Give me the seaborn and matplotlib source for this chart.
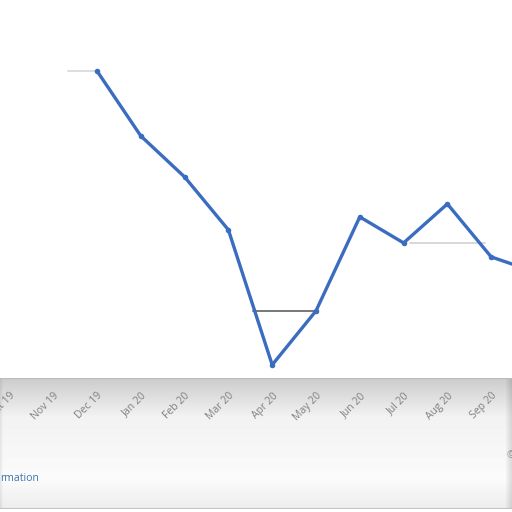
import numpy as np
import pandas as pd
import matplotlib.pyplot as plt
import seaborn as sns

# monthly values (axis has no scale shown)
months = ["Oct 19", "Nov 19", "Dec 19", "Jan 20", "Feb 20", "Mar 20", "Apr 20",
          "May 20", "Jun 20", "Jul 20", "Aug 20", "Sep 20", "Oct 20"]
values = [np.nan, np.nan, 30.9, 24.4, 20.3, 15.0, 1.5, 6.9, 16.3, 13.7, 17.6, 12.3, 10.8]

# faint horizontal guide segments: start position, end position, level
guide_start = [1.34, 5.56, 9.15]
guide_end = [2.0, 7.0, 10.86]
guide_level = [30.9, 6.9, 13.7]
guide_color = ["#dddddd", "#777777", "#d8d8d8"]

df = pd.DataFrame({"pos": np.arange(len(months)), "value": values})

sns.set_style("white")
plt.rcParams['font.family'] = ['Open Sans', 'DejaVu Sans']

fig = plt.figure(figsize=(5.12, 5.12), dpi=100)

# grey band behind the month labels
band = fig.add_axes([0, 0.005, 1, 0.257], zorder=0)
grad = np.concatenate([np.linspace(0.80, 0.95, 40), np.linspace(0.95, 0.985, 60),
                       np.linspace(0.985, 0.93, 30)])
col_shade = np.ones(512)
col_shade[:3] = np.linspace(0.93, 0.98, 3)
col_shade[-6:] = np.linspace(0.97, 0.88, 6)
img = np.clip(np.outer(grad, col_shade), 0, 1)
band.imshow(img, cmap="gray", vmin=0, vmax=1, aspect="auto", extent=[0, 1, 0, 1])
band.axhline(1, color="#bcbcbc", lw=1.5)
band.axhline(0, color="#c4c4c4", lw=1.5)
band.set_xlim(0, 1)
band.set_ylim(0, 1)
band.axis("off")

# axes runs a little past the right edge so the Oct 20 label is partly visible
ax = fig.add_axes([0, 0.262, 1.05, 0.738], zorder=1)
ax.patch.set_alpha(0)

for x0, x1, lvl, c in zip(guide_start, guide_end, guide_level, guide_color):
    ax.plot([x0, x1], [lvl, lvl], color=c, lw=1.4, zorder=1)

sns.lineplot(data=df, x="pos", y="value", ax=ax, color="#3a6cbf", lw=2.4,
             marker="o", markersize=4, markeredgewidth=0, zorder=2)

ax.set_xticks(range(len(months)))
ax.set_xticklabels(months, rotation=45, ha="right", va="top",
                   rotation_mode="anchor", fontsize=7.5, color="#808080")
ax.set_xlim(-0.215, 12.06)
ax.set_ylim(0.2, 38)
ax.tick_params(axis="x", length=0, pad=9)
ax.set_yticks([])
ax.set_xlabel("")
ax.set_ylabel("")
for s in ax.spines.values():
    s.set_visible(False)

fig.text(0.0, 0.066, "rmation", fontsize=7.5, color="#3a72ad", va="center")
fig.text(0.99, 0.11, "©", fontsize=7.5, color="#909090", va="center")

fig.savefig("out.png", dpi=100)
